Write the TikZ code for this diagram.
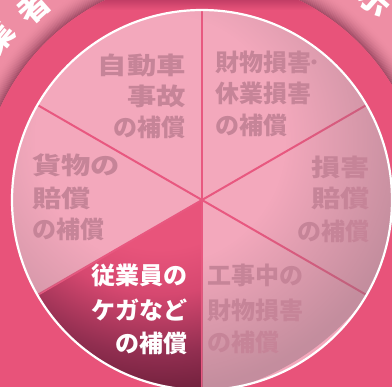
\documentclass[tikz,border=0pt]{standalone}
\usepackage{fontspec}
\usepackage{graphicx}
\newfontfamily\jp{Noto Sans CJK JP}
\usetikzlibrary{fadings}
\definecolor{bandc}{RGB}{232,83,122}
\definecolor{lpink}{RGB}{238,142,164}
\definecolor{dmauve}{RGB}{160,76,102}
\definecolor{pieL}{RGB}{243,168,188}
\definecolor{linec}{RGB}{232,88,128}
\definecolor{txtc}{RGB}{198,132,152}
\definecolor{vignc}{RGB}{140,110,122}
\definecolor{selA}{RGB}{232,84,123}
\definecolor{selB}{RGB}{214,72,112}
\definecolor{selC}{RGB}{145,46,80}
\definecolor{selD}{RGB}{112,32,60}
\definecolor{topdark}{RGB}{195,62,102}
% TikZ maps the central 50bp square of a shading onto the path's bounding box
\pgfdeclareradialshading{selshade}{\pgfpoint{0bp}{0bp}}{color(0bp)=(selA); color(10.6bp)=(selA); color(14.9bp)=(selB); color(20.7bp)=(selC); color(24.5bp)=(selD); color(40bp)=(selD)}
\pgfdeclareradialshading{vignshade}{\pgfpoint{0bp}{0bp}}{color(0bp)=(pgftransparent!100); color(12bp)=(pgftransparent!100); color(24bp)=(pgftransparent!55); color(40bp)=(pgftransparent!55)}
\pgfdeclarefading{vign}{\pgfuseshading{vignshade}}
\newcommand\widetxt[1]{\scalebox{1.22}[1]{#1}}
\tikzset{
  lbl/.style={inner sep=0, font=\jp\bfseries\fontsize{24}{24}\selectfont, text=txtc, text height=20.5pt, text depth=2.5pt},
  wlbl/.style={lbl, text=white},
  corner/.style={inner sep=0, font=\jp\bfseries\fontsize{32}{32}\selectfont, text=white},
  sectorline/.style={linec, line width=2pt}
}
\begin{document}
\begin{tikzpicture}[x=1pt,y=1pt]
\useasboundingbox (0,0) rectangle (392,387);
\clip (0,0) rectangle (392,387);
\coordinate (C) at (202,187);
\coordinate (F) at (160,248);
% background
\fill[bandc] (0,0) rectangle (392,387);
\begin{scope}
  \clip (-10,187) rectangle (402,400);
  \fill[lpink] (-10,187) rectangle (402,400);
  \foreach \i in {0,...,19}{
    \pgfmathsetmacro\mix{100*(1-\i/20)^2}
    \draw[dmauve!\mix!lpink, line width=1.2pt] (C) circle ({222+\i+0.5});
  }
\end{scope}
\fill[bandc] (C) circle (222);
\begin{scope}
  \clip (C) circle (222);
  \shade[top color=topdark, bottom color=bandc] (0,377) rectangle (392,387);
\end{scope}
% corner arc text
\node[corner, rotate=41.5] (k1) at (33,380) {者};
\node[corner, rotate=50.5] (k2) at (-3,350) {業};
\node[corner, rotate=-41] (k3) at (375.2,386.2) {示};
% pie
\fill[pieL] (C) circle (190);
\begin{scope}
  \clip (C) -- ++(210:190) arc[start angle=210, end angle=270, radius=190] -- cycle;
  \shade[shading=selshade] (F) circle (260);
\end{scope}
\foreach \a/\n in {90/a,30/b,-30/c,-90/d,210/e,150/f}{
  \path (C) ++(\a:190) coordinate (r\n);
  \draw[sectorline] (C) -- (r\n);
}
\begin{scope}
  \clip (C) -- ++(-90:191) arc[start angle=-90, end angle=210, radius=191] -- cycle;
  \fill[vignc, path fading=vign] (F) circle (260);
\end{scope}
\draw[white, line width=2.2pt] (C) circle (190);
% labels
\node[lbl, anchor=east] (tl1) at (186,321) {\widetxt{自動車}};
\node[lbl, anchor=east] (tl2) at (186,290) {\widetxt{事故}};
\node[lbl, anchor=east] (tl3) at (186,259) {の補償};
\node[lbl, anchor=west] (tr1) at (215,324) {財物損害\kern-3pt ･};
\node[lbl, anchor=west] (tr2) at (215,293) {休業損害};
\node[lbl, anchor=west] (tr3) at (215,261) {の補償};
\node[lbl, anchor=east] (r1) at (370,219) {\widetxt{損害}};
\node[lbl, anchor=east] (r2) at (370,188) {\widetxt{賠償}};
\node[lbl, anchor=east] (r3) at (370,155) {の補償};
\node[lbl, anchor=west] (l1) at (32,221) {\widetxt{貨物の}};
\node[lbl, anchor=west] (l2) at (32,188) {\widetxt{賠償}};
\node[lbl, anchor=west] (l3) at (32,157) {の補償};
\node[wlbl, anchor=east] (bl1) at (188,111) {従業員の};
\node[wlbl, anchor=east] (bl2) at (188,76) {ケガなど};
\node[wlbl, anchor=east] (bl3) at (188,43) {の補償};
\node[lbl, anchor=west] (br1) at (207,111) {工事中の};
\node[lbl, anchor=west] (br2) at (207,76) {財物損害};
\node[lbl, anchor=west] (br3) at (207,44) {の補償};
\end{tikzpicture}
\end{document}
